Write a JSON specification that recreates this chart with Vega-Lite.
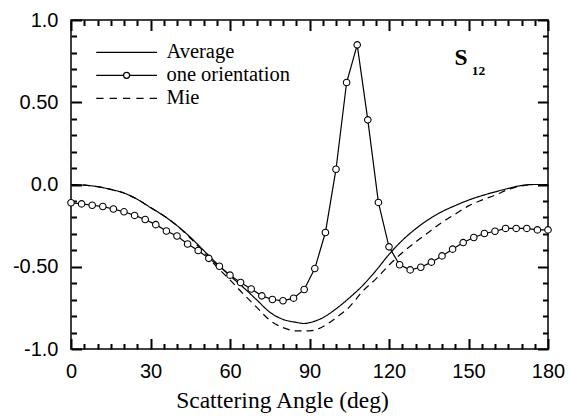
{
  "$schema": "https://vega.github.io/schema/vega-lite/v6.json",
  "width": 477,
  "height": 329,
  "autosize": {"type": "none"},
  "padding": {"left": 71, "top": 20, "right": 21, "bottom": 69},
  "background": "white",
  "config": {
    "view": {"stroke": "black", "strokeWidth": 1.5},
    "axis": {"grid": false, "domainOpacity": 0, "labelColor": "black", "labelFont": "Liberation Sans", "labelFontSize": 20, "labelFlush": false, "labelOverlap": false}
  },
  "datasets": {
    "curves": [
      {"series": "Average", "deg": 0, "val": 0}, {"series": "Average", "deg": 5, "val": -0.004}, {"series": "Average", "deg": 10, "val": -0.013}, {"series": "Average", "deg": 15, "val": -0.03}, {"series": "Average", "deg": 20, "val": -0.052}, {"series": "Average", "deg": 25, "val": -0.09}, {"series": "Average", "deg": 30, "val": -0.14}, {"series": "Average", "deg": 35, "val": -0.19}, {"series": "Average", "deg": 40, "val": -0.25}, {"series": "Average", "deg": 45, "val": -0.32}, {"series": "Average", "deg": 50, "val": -0.4}, {"series": "Average", "deg": 55, "val": -0.48}, {"series": "Average", "deg": 60, "val": -0.555}, {"series": "Average", "deg": 65, "val": -0.625}, {"series": "Average", "deg": 70, "val": -0.7}, {"series": "Average", "deg": 75, "val": -0.776}, {"series": "Average", "deg": 80, "val": -0.82}, {"series": "Average", "deg": 85, "val": -0.838}, {"series": "Average", "deg": 88, "val": -0.845}, {"series": "Average", "deg": 90, "val": -0.84}, {"series": "Average", "deg": 95, "val": -0.81}, {"series": "Average", "deg": 100, "val": -0.756}, {"series": "Average", "deg": 105, "val": -0.69}, {"series": "Average", "deg": 110, "val": -0.615}, {"series": "Average", "deg": 115, "val": -0.525}, {"series": "Average", "deg": 120, "val": -0.425}, {"series": "Average", "deg": 125, "val": -0.34}, {"series": "Average", "deg": 130, "val": -0.27}, {"series": "Average", "deg": 135, "val": -0.212}, {"series": "Average", "deg": 140, "val": -0.165}, {"series": "Average", "deg": 145, "val": -0.128}, {"series": "Average", "deg": 150, "val": -0.095}, {"series": "Average", "deg": 155, "val": -0.068}, {"series": "Average", "deg": 160, "val": -0.045}, {"series": "Average", "deg": 165, "val": -0.024}, {"series": "Average", "deg": 170, "val": -0.006}, {"series": "Average", "deg": 175, "val": 0}, {"series": "Average", "deg": 180, "val": 0},
      {"series": "Mie", "deg": 0, "val": 0}, {"series": "Mie", "deg": 5, "val": -0.004}, {"series": "Mie", "deg": 10, "val": -0.013}, {"series": "Mie", "deg": 15, "val": -0.03}, {"series": "Mie", "deg": 20, "val": -0.052}, {"series": "Mie", "deg": 25, "val": -0.09}, {"series": "Mie", "deg": 30, "val": -0.14}, {"series": "Mie", "deg": 35, "val": -0.19}, {"series": "Mie", "deg": 40, "val": -0.25}, {"series": "Mie", "deg": 45, "val": -0.325}, {"series": "Mie", "deg": 50, "val": -0.41}, {"series": "Mie", "deg": 55, "val": -0.5}, {"series": "Mie", "deg": 60, "val": -0.58}, {"series": "Mie", "deg": 65, "val": -0.665}, {"series": "Mie", "deg": 70, "val": -0.745}, {"series": "Mie", "deg": 75, "val": -0.825}, {"series": "Mie", "deg": 80, "val": -0.87}, {"series": "Mie", "deg": 85, "val": -0.89}, {"series": "Mie", "deg": 90, "val": -0.89}, {"series": "Mie", "deg": 95, "val": -0.865}, {"series": "Mie", "deg": 100, "val": -0.81}, {"series": "Mie", "deg": 105, "val": -0.745}, {"series": "Mie", "deg": 110, "val": -0.65}, {"series": "Mie", "deg": 115, "val": -0.575}, {"series": "Mie", "deg": 120, "val": -0.49}, {"series": "Mie", "deg": 125, "val": -0.415}, {"series": "Mie", "deg": 130, "val": -0.35}, {"series": "Mie", "deg": 135, "val": -0.29}, {"series": "Mie", "deg": 140, "val": -0.23}, {"series": "Mie", "deg": 145, "val": -0.18}, {"series": "Mie", "deg": 150, "val": -0.13}, {"series": "Mie", "deg": 155, "val": -0.095}, {"series": "Mie", "deg": 160, "val": -0.065}, {"series": "Mie", "deg": 165, "val": -0.03}, {"series": "Mie", "deg": 170, "val": -0.008}, {"series": "Mie", "deg": 175, "val": 0}, {"series": "Mie", "deg": 180, "val": 0}
    ],
    "one": [
      {"deg": 0, "val": -0.111}, {"deg": 4, "val": -0.118}, {"deg": 8, "val": -0.126}, {"deg": 12, "val": -0.134}, {"deg": 16, "val": -0.149}, {"deg": 20, "val": -0.166}, {"deg": 24, "val": -0.188}, {"deg": 28, "val": -0.213}, {"deg": 32, "val": -0.244}, {"deg": 36, "val": -0.283}, {"deg": 40, "val": -0.313}, {"deg": 44, "val": -0.362}, {"deg": 48, "val": -0.401}, {"deg": 52, "val": -0.449}, {"deg": 56, "val": -0.497}, {"deg": 60, "val": -0.551}, {"deg": 64, "val": -0.596}, {"deg": 68, "val": -0.635}, {"deg": 72, "val": -0.677}, {"deg": 76, "val": -0.699}, {"deg": 80, "val": -0.707}, {"deg": 84, "val": -0.691}, {"deg": 88, "val": -0.638}, {"deg": 92, "val": -0.511}, {"deg": 96, "val": -0.292}, {"deg": 100, "val": 0.093}, {"deg": 104, "val": 0.62}, {"deg": 108, "val": 0.849}, {"deg": 112, "val": 0.393}, {"deg": 116, "val": -0.109}, {"deg": 120, "val": -0.379}, {"deg": 124, "val": -0.488}, {"deg": 128, "val": -0.519}, {"deg": 132, "val": -0.503}, {"deg": 136, "val": -0.472}, {"deg": 140, "val": -0.434}, {"deg": 144, "val": -0.393}, {"deg": 148, "val": -0.353}, {"deg": 152, "val": -0.322}, {"deg": 156, "val": -0.298}, {"deg": 160, "val": -0.284}, {"deg": 164, "val": -0.267}, {"deg": 168, "val": -0.267}, {"deg": 172, "val": -0.267}, {"deg": 176, "val": -0.276}, {"deg": 180, "val": -0.276}
    ],
    "mainLabel": [{"label": "S", "deg": 144.7, "val": 0.729}],
    "subLabel": [{"label": "12", "deg": 151.2, "val": 0.663}]
  },
  "layer": [
    {
      "data": {"name": "curves"},
      "mark": {"type": "line", "color": "black", "strokeWidth": 1.2, "interpolate": "monotone"},
      "encoding": {
        "x": {"field": "deg", "type": "quantitative", "scale": {"domain": [0, 180], "nice": false, "zero": false},
          "axis": {"orient": "bottom", "values": [0, 30, 60, 90, 120, 150, 180], "ticks": true, "tickSize": -10.5, "tickColor": "black", "tickWidth": 2, "labelPadding": 23,
            "title": "Scattering Angle (deg)", "titleFont": "Liberation Serif", "titleFontSize": 23.5, "titleFontWeight": "normal", "titleColor": "black", "titleX": 211, "titleY": 58, "titleBaseline": "alphabetic"}},
        "y": {"field": "val", "type": "quantitative", "scale": {"domain": [-1, 1], "nice": false, "zero": false},
          "axis": {"orient": "left", "values": [-1, -0.5, 0, 0.5, 1], "ticks": true, "tickSize": -10.5, "tickColor": "black", "tickWidth": 2, "labelPadding": 23.5, "title": null,
            "labelExpr": "datum.value == 1 ? '1.0' : datum.value == 0.5 ? '0.50' : datum.value == 0 ? '0.0' : datum.value == -0.5 ? '-0.50' : '-1.0'"}},
        "strokeDash": {"field": "series", "type": "nominal", "scale": {"domain": ["Average", "Mie"], "range": [[1, 0], [7, 5]]}, "legend": null}
      }
    },
    {
      "data": {"name": "one"},
      "mark": {"type": "line", "color": "black", "strokeWidth": 1.2},
      "encoding": {
        "x": {"field": "deg", "type": "quantitative", "scale": {"domain": [0, 180], "nice": false, "zero": false},
          "axis": {"orient": "bottom", "values": [5, 10, 15, 20, 25, 35, 40, 45, 50, 55, 65, 70, 75, 80, 85, 95, 100, 105, 110, 115, 125, 130, 135, 140, 145, 155, 160, 165, 170, 175], "ticks": true, "tickSize": -5.5, "tickColor": "black", "tickWidth": 2, "labels": false, "title": null}},
        "y": {"field": "val", "type": "quantitative", "scale": {"domain": [-1, 1], "nice": false, "zero": false},
          "axis": {"orient": "left", "values": [-0.9, -0.8, -0.7, -0.6, -0.4, -0.3, -0.2, -0.1, 0.1, 0.2, 0.3, 0.4, 0.6, 0.7, 0.8, 0.9], "ticks": true, "tickSize": -5.5, "tickColor": "black", "tickWidth": 2, "labels": false, "title": null}}
      }
    },
    {
      "data": {"name": "one"},
      "mark": {"type": "point", "filled": true, "fill": "white", "stroke": "black", "strokeWidth": 1.1, "size": 42, "opacity": 1},
      "encoding": {
        "x": {"field": "deg", "type": "quantitative", "scale": {"domain": [0, 180], "nice": false, "zero": false},
          "axis": {"orient": "top", "values": [0, 30, 60, 90, 120, 150, 180], "ticks": true, "tickSize": -10.5, "tickColor": "black", "tickWidth": 2, "labels": false, "title": null}},
        "y": {"field": "val", "type": "quantitative", "scale": {"domain": [-1, 1], "nice": false, "zero": false},
          "axis": {"orient": "right", "values": [-1, -0.5, 0, 0.5, 1], "ticks": true, "tickSize": -10.5, "tickColor": "black", "tickWidth": 2, "labels": false, "title": null}}
      }
    },
    {
      "data": {"name": "one"},
      "mark": {"type": "point", "opacity": 0},
      "encoding": {
        "x": {"field": "deg", "type": "quantitative", "scale": {"domain": [0, 180], "nice": false, "zero": false},
          "axis": {"orient": "top", "values": [5, 10, 15, 20, 25, 35, 40, 45, 50, 55, 65, 70, 75, 80, 85, 95, 100, 105, 110, 115, 125, 130, 135, 140, 145, 155, 160, 165, 170, 175], "ticks": true, "tickSize": -5.5, "tickColor": "black", "tickWidth": 2, "labels": false, "title": null}},
        "y": {"field": "val", "type": "quantitative", "scale": {"domain": [-1, 1], "nice": false, "zero": false},
          "axis": {"orient": "right", "values": [-0.9, -0.8, -0.7, -0.6, -0.4, -0.3, -0.2, -0.1, 0.1, 0.2, 0.3, 0.4, 0.6, 0.7, 0.8, 0.9], "ticks": true, "tickSize": -5.5, "tickColor": "black", "tickWidth": 2, "labels": false, "title": null}}
      }
    },
    {
      "mark": {"type": "rule", "color": "black", "strokeWidth": 1.2},
      "encoding": {"y": {"datum": 0, "type": "quantitative", "scale": {"domain": [-1, 1], "nice": false, "zero": false}, "axis": null}}
    },
    {
      "data": {"name": "mainLabel"},
      "mark": {"type": "text", "font": "Liberation Serif", "fontWeight": "bold", "fontSize": 23.5, "align": "left", "baseline": "alphabetic", "color": "black"},
      "encoding": {
        "x": {"field": "deg", "type": "quantitative", "scale": {"domain": [0, 180], "nice": false, "zero": false}, "axis": null},
        "y": {"field": "val", "type": "quantitative", "scale": {"domain": [-1, 1], "nice": false, "zero": false}, "axis": null},
        "text": {"field": "label", "type": "nominal"}
      }
    },
    {
      "data": {"name": "subLabel"},
      "mark": {"type": "text", "font": "Liberation Serif", "fontWeight": "bold", "fontSize": 13.5, "align": "left", "baseline": "alphabetic", "color": "black"},
      "encoding": {
        "x": {"field": "deg", "type": "quantitative", "scale": {"domain": [0, 180], "nice": false, "zero": false}, "axis": null},
        "y": {"field": "val", "type": "quantitative", "scale": {"domain": [-1, 1], "nice": false, "zero": false}, "axis": null},
        "text": {"field": "label", "type": "nominal"}
      }
    },
    {
      "data": {"name": "curves"},
      "transform": [{"filter": "false"}],
      "mark": {"type": "point", "filled": false, "color": "black", "strokeWidth": 1.2},
      "encoding": {
        "x": {"field": "deg", "type": "quantitative", "scale": {"domain": [0, 180], "nice": false, "zero": false}, "axis": null},
        "y": {"field": "val", "type": "quantitative", "scale": {"domain": [-1, 1], "nice": false, "zero": false}, "axis": null},
        "shape": {"field": "series", "type": "nominal",
          "scale": {"domain": ["Average", "one orientation", "Mie"],
            "range": ["M-1,0H1", "M-1,0H-0.1M0.1,0H1M-0.1,0A0.1,0.1 0 1,0 0.1,0A0.1,0.1 0 1,0 -0.1,0", "M-1,0H-0.76M-0.56,0H-0.32M-0.12,0H0.12M0.32,0H0.56M0.76,0H1"]},
          "legend": {"orient": "none", "legendX": 24.6, "legendY": 21, "title": null, "padding": 0, "symbolSize": 3684, "clipHeight": 22.7, "rowPadding": 0,
            "symbolStrokeColor": "black", "symbolFillColor": "transparent", "symbolStrokeWidth": 1.2, "symbolOpacity": 1,
            "labelFont": "Liberation Serif", "labelFontSize": 20.5, "labelColor": "black", "labelOffset": 8.8, "labelLimit": 400}}
      }
    }
  ],
  "resolve": {"axis": {"x": "independent", "y": "independent"}}
}
